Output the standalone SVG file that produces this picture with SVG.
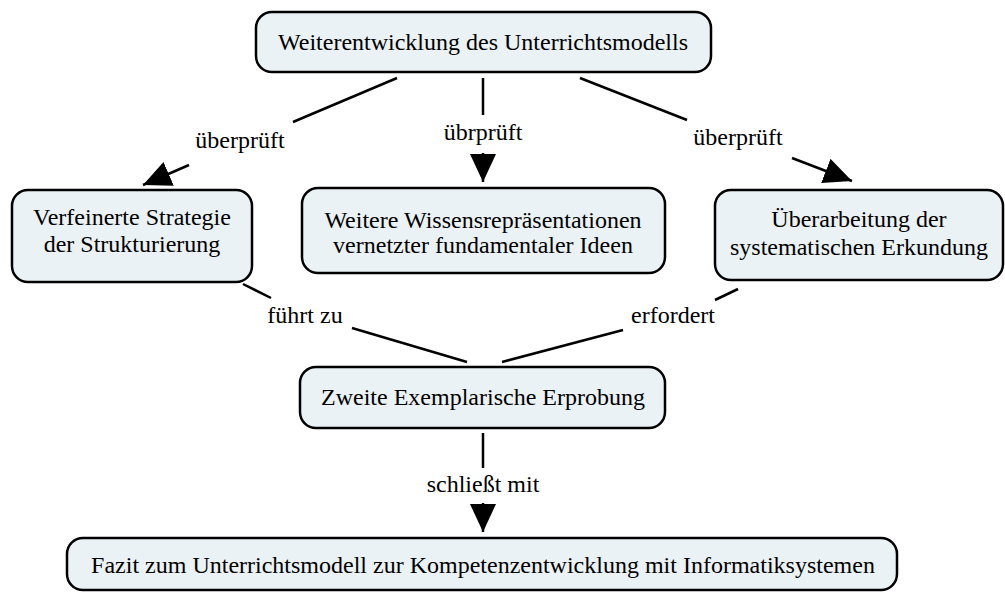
<svg xmlns="http://www.w3.org/2000/svg" width="1005" height="595" viewBox="0 0 1005 595">
<style>
.node rect{fill:#ebf2f5;stroke:#000;stroke-width:2.5}
text{font-family:"Liberation Serif","Times New Roman",serif;font-size:24px;fill:#000;text-anchor:middle}
.conn line{stroke:#000;stroke-width:2.5}
</style>
<defs>
<marker id="arr" markerUnits="userSpaceOnUse" markerWidth="30" markerHeight="28" refX="28" refY="13" orient="auto">
<path d="M0,0 L28,13 L0,26 z" fill="#000"/>
</marker>
</defs>
<rect width="1005" height="595" fill="#fff"/>
<g id="connectors" class="conn">
<line x1="397" y1="78" x2="293" y2="122"/>
<line x1="189" y1="165" x2="143" y2="185" marker-end="url(#arr)"/>
<line x1="483" y1="78" x2="483" y2="115"/>
<line x1="483" y1="153" x2="483" y2="182" marker-end="url(#arr)"/>
<line x1="580" y1="78" x2="687" y2="120"/>
<line x1="792" y1="158" x2="852" y2="181" marker-end="url(#arr)"/>
<line x1="243" y1="284" x2="271" y2="298"/>
<line x1="352" y1="328" x2="467" y2="362"/>
<line x1="738" y1="289" x2="715" y2="300"/>
<line x1="623" y1="330" x2="502" y2="362"/>
<line x1="483" y1="433" x2="483" y2="468"/>
<line x1="483" y1="503" x2="483" y2="532" marker-end="url(#arr)"/>
<text x="240" y="148">überprüft</text>
<text x="483" y="140">übrprüft</text>
<text x="738" y="145">überprüft</text>
<text x="305" y="323">führt zu</text>
<text x="673" y="323">erfordert</text>
<text x="483" y="492">schließt mit</text>
</g>
<g id="n-top" class="node">
<rect x="256" y="12" width="455" height="60" rx="16"/>
<text x="483" y="50">Weiterentwicklung des Unterrichtsmodells</text>
</g>
<g id="n-left" class="node">
<rect x="12" y="190" width="240" height="92" rx="16"/>
<text x="132" y="225">Verfeinerte Strategie</text>
<text x="132" y="252">der Strukturierung</text>
</g>
<g id="n-mid" class="node">
<rect x="302" y="188" width="363" height="85" rx="16"/>
<text x="483" y="228">Weitere Wissensrepräsentationen</text>
<text x="483" y="253">vernetzter fundamentaler Ideen</text>
</g>
<g id="n-right" class="node">
<rect x="715" y="190" width="288" height="90" rx="16"/>
<text x="859" y="227">Überarbeitung der</text>
<text x="859" y="255">systematischen Erkundung</text>
</g>
<g id="n-zweite" class="node">
<rect x="300" y="367" width="365" height="61" rx="16"/>
<text x="483" y="405">Zweite Exemplarische Erprobung</text>
</g>
<g id="n-fazit" class="node">
<rect x="67" y="538" width="830" height="52" rx="16"/>
<text x="483" y="573">Fazit zum Unterrichtsmodell zur Kompetenzentwicklung mit Informatiksystemen</text>
</g>
</svg>
